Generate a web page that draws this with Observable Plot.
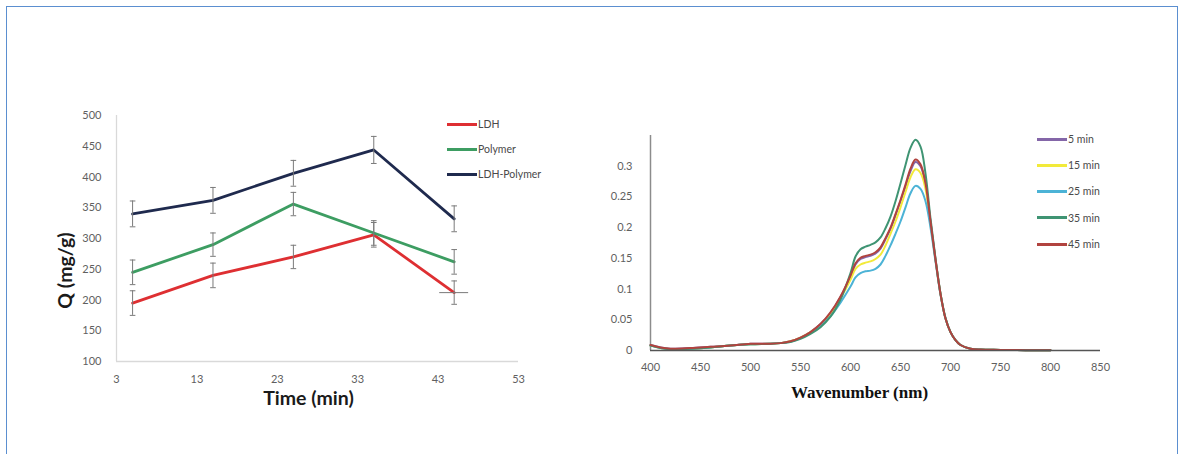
<!DOCTYPE html>
<html>
<head>
<meta charset="utf-8">
<script src="https://cdn.jsdelivr.net/npm/d3@7"></script>
<script src="https://cdn.jsdelivr.net/npm/@observablehq/plot@0.6"></script>
<style>
html,body{margin:0;padding:0;background:#fff;}
#page{position:relative;width:1183px;height:454px;overflow:hidden;background:#fff;}
#frame{position:absolute;left:6px;top:6px;width:1172px;height:470px;border:1.5px solid #5b8fd0;box-sizing:border-box;}
#left{position:absolute;left:0;top:0;}
#right{position:absolute;left:600px;top:0;}
.item{position:absolute;white-space:nowrap;font-family:Lato,"Noto Sans",sans-serif;font-size:10.5px;color:#4a4a4a;line-height:12px;}
.sw{display:inline-block;width:30px;height:3px;vertical-align:middle;margin-right:1px;position:relative;top:-1px;}
</style>
</head>
<body>
<div id="page">
  <div id="frame"></div>
  <div id="left"></div>
  <div id="right"></div>
</div>
<script>
// ---------- Left chart data ----------
const times = [5, 15, 25, 35, 45];
const timeTicks = [3, 13, 23, 33, 43, 53];
const qTicks = [100, 150, 200, 250, 300, 350, 400, 450, 500];
const seriesNames = ["LDH", "Polymer", "LDH-Polymer"];
const seriesColors = ["#de2f32", "#3d9d62", "#1f2a4e"];
const ldh = [195, 240, 270, 306, 212];
const polymer = [245, 290, 356, 309, 262];
const ldhPolymer = [340, 362, 406, 444, 332];
const ldhErr = [20, 20, 19, 20, 19];
const polymerErr = [20, 19, 19, 20, 20];
const ldhPolymerErr = [21, 21, 21, 22, 21];
const ldhXErr = [0, 0, 0, 0, 1.8];   // horizontal error bar seen on the last LDH point

// ---------- Right chart data ----------
const wavelengths = [400,410,420,440,460,480,500,520,530,540,550,560,570,580,590,600,605,610,615,620,625,630,635,640,645,650,655,660,665,670,675,680,685,690,695,700,705,710,720,730,750,775,800];
const wlTicks = [400,450,500,550,600,650,700,750,800,850];
const absTicks = [0,0.05,0.1,0.15,0.2,0.25,0.3];
const specNames = ["5 min","15 min","25 min","35 min","45 min"];
const specColors = ["#8466a8","#f2ea3a","#4cb3d6","#3f9473","#b1433f"];
const s5  = [0.009,0.005,0.003,0.004,0.006,0.008,0.011,0.011,0.012,0.015,0.021,0.030,0.043,0.061,0.087,0.120,0.140,0.149,0.152,0.154,0.158,0.166,0.181,0.198,0.220,0.243,0.267,0.292,0.307,0.300,0.270,0.209,0.148,0.092,0.052,0.030,0.017,0.009,0.003,0.0015,0.001,0.0005,0.0003];
const s15 = [0.008,0.004,0.002,0.003,0.005,0.008,0.010,0.011,0.012,0.015,0.021,0.030,0.042,0.060,0.085,0.115,0.133,0.140,0.143,0.145,0.149,0.156,0.171,0.190,0.210,0.233,0.258,0.282,0.295,0.289,0.263,0.206,0.147,0.092,0.052,0.030,0.017,0.009,0.003,0.0015,0.001,0.0005,0.0003];
const s25 = [0.008,0.004,0.002,0.003,0.005,0.008,0.010,0.011,0.012,0.014,0.020,0.029,0.040,0.056,0.078,0.104,0.119,0.126,0.129,0.130,0.133,0.140,0.154,0.171,0.190,0.210,0.233,0.256,0.268,0.263,0.243,0.200,0.145,0.091,0.052,0.030,0.017,0.009,0.003,0.0015,0.001,0.0005,0.0003];
const s35 = [0.008,0.004,0.002,0.003,0.005,0.008,0.010,0.011,0.012,0.014,0.019,0.027,0.038,0.055,0.083,0.126,0.153,0.165,0.169,0.172,0.176,0.184,0.199,0.218,0.243,0.272,0.302,0.330,0.343,0.332,0.288,0.215,0.150,0.093,0.053,0.030,0.017,0.009,0.003,0.0015,0.001,0.0005,0.0003];
const s45 = [0.009,0.005,0.003,0.004,0.006,0.008,0.011,0.011,0.012,0.015,0.021,0.030,0.043,0.062,0.088,0.122,0.142,0.151,0.154,0.156,0.160,0.168,0.183,0.200,0.222,0.245,0.270,0.296,0.311,0.303,0.272,0.210,0.148,0.092,0.052,0.030,0.017,0.009,0.003,0.0015,0.001,0.0005,0.0003];

// ---------- Build tables ----------
const qVals = [ldh, polymer, ldhPolymer];
const qErrs = [ldhErr, polymerErr, ldhPolymerErr];
const rows = [];
seriesNames.forEach((s, i) => times.forEach((t, j) => rows.push({series: s, t, q: qVals[i][j], err: qErrs[i][j], xerr: i === 0 ? ldhXErr[j] : 0})));

const specVals = [s5, s15, s25, s35, s45];
const spec = [];
specNames.forEach((s, i) => wavelengths.forEach((w, j) => spec.push({series: s, w, a: specVals[i][j]})));

const tickFont = {fontFamily: "Lato, 'Noto Sans', sans-serif", fontSize: "11px", color: "#5f5f5f", background: "transparent", overflow: "visible"};

// ---------- Left chart ----------
const left = Plot.plot({
  width: 600, height: 454,
  marginLeft: 116, marginRight: 82, marginTop: 115, marginBottom: 93,
  style: tickFont,
  x: {domain: [3, 53], ticks: timeTicks, tickSize: 0, tickPadding: 14, label: null},
  y: {domain: [100, 500], ticks: qTicks, tickSize: 0, tickPadding: 15, label: null},
  color: {domain: seriesNames, range: seriesColors},
  marks: [
    Plot.ruleY([100], {stroke: "#d9d9d9", strokeWidth: 1.3}),
    Plot.ruleX([3], {stroke: "#d9d9d9", strokeWidth: 1.3}),
    Plot.line(rows, {x: "t", y: "q", z: "series", stroke: "series", strokeWidth: 2.8}),
    Plot.ruleX(rows, {x: "t", y1: d => d.q - d.err, y2: d => d.q + d.err, stroke: "#7a7a7a", strokeWidth: 1}),
    Plot.link(rows, {x1: d => d.t - 0.35, x2: d => d.t + 0.35, y1: d => d.q + d.err, y2: d => d.q + d.err, stroke: "#7a7a7a", strokeWidth: 1}),
    Plot.link(rows, {x1: d => d.t - 0.35, x2: d => d.t + 0.35, y1: d => d.q - d.err, y2: d => d.q - d.err, stroke: "#7a7a7a", strokeWidth: 1}),
    Plot.ruleY(rows.filter(d => d.xerr > 0), {y: "q", x1: d => d.t - d.xerr, x2: d => d.t + d.xerr, stroke: "#7a7a7a", strokeWidth: 1}),
    Plot.text(["Time (min)"], {frameAnchor: "bottom", dx: -9, dy: 43, fontFamily: "Lato, sans-serif", fontWeight: "bold", fontSize: 19.5, fill: "#1a1a1a"}),
    Plot.text(["Q (mg/g)"], {frameAnchor: "left", textAnchor: "middle", rotate: -90, dx: -51, dy: 32, fontFamily: "Lato, sans-serif", fontWeight: "bold", fontSize: 19.5, fill: "#1a1a1a"})
  ]
});
document.getElementById("left").appendChild(left);

// ---------- Right chart ----------
const right = Plot.plot({
  width: 583, height: 454,
  marginLeft: 50, marginRight: 83, marginTop: 135, marginBottom: 104,
  style: tickFont,
  x: {domain: [400, 850], ticks: wlTicks, tickSize: 0, tickPadding: 13, label: null},
  y: {domain: [0, 0.35], ticks: absTicks, tickSize: 0, tickPadding: 18, label: null, tickFormat: d => String(+d.toFixed(2))},
  color: {domain: specNames, range: specColors},
  marks: [
    Plot.ruleX([400], {stroke: "#8c8c8c", strokeWidth: 1.5}),
    Plot.line(spec, {x: "w", y: "a", z: "series", stroke: "series", strokeWidth: 2, curve: "catmull-rom"}),
    Plot.ruleY([0], {stroke: "#555555", strokeWidth: 1.3}),
    Plot.text(["Wavenumber (nm)"], {frameAnchor: "bottom", dx: -16, dy: 47, fontFamily: "'Liberation Serif', serif", fontWeight: "bold", fontSize: 17, fill: "#111"})
  ]
});
document.getElementById("right").appendChild(right);

// ---------- Legends ----------
function legend(names, colors, x, y0, step) {
  const page = document.getElementById("page");
  names.forEach((n, i) => {
    const d = document.createElement("div");
    d.className = "item";
    d.style.left = x + "px";
    d.style.top = (y0 + i * step - 6) + "px";
    const sw = document.createElement("span");
    sw.className = "sw";
    sw.style.background = colors[i];
    d.appendChild(sw);
    d.appendChild(document.createTextNode(n));
    page.appendChild(d);
  });
}
legend(seriesNames, seriesColors, 447, 124, 25);
legend(specNames, specColors, 1037, 139, 26.2);
</script>
</body>
</html>
